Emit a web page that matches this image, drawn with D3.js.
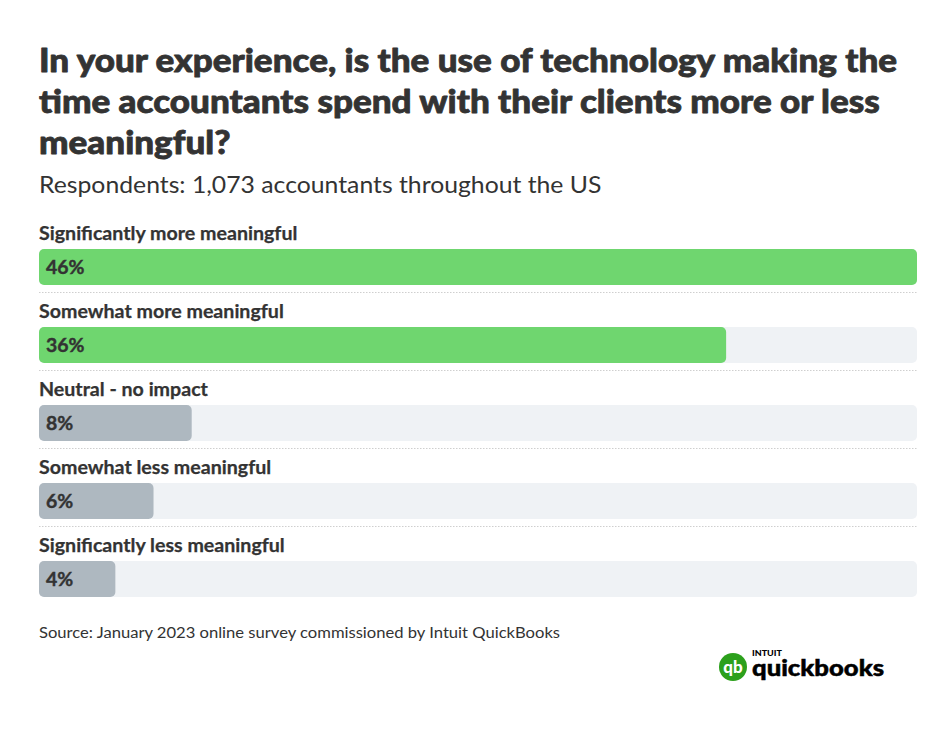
<!DOCTYPE html>
<html><head><meta charset="utf-8">
<script src="https://cdn.jsdelivr.net/npm/d3@7"></script>
<style>body{margin:0;background:#fff}svg{display:block}</style>
</head><body>
<svg id="c" width="946" height="748"></svg>
<script>
const titleLines = ["In your experience, is the use of technology making the","time accountants spend with their clients more or less","meaningful?"];
const subtitle = "Respondents: 1,073 accountants throughout the US";
const categories = ["Significantly more meaningful","Somewhat more meaningful","Neutral - no impact","Somewhat less meaningful","Significantly less meaningful"];
const values = [46,36,8,6,4];
const positive = [true,true,false,false,false];
const source = "Source: January 2023 online survey commissioned by Intuit QuickBooks";

const svg = d3.select("#c");
const ink = "#333333";
const left = 39, right = 917;
const x = d3.scaleLinear().domain([0, d3.max(values)]).range([left, right]);
const y = d3.scaleBand().domain(categories).range([218, 608]).paddingInner(0).paddingOuter(0);
const barH = 36;

function widen(sel, factor){
  sel.each(function(){
    const n = this.getComputedTextLength();
    d3.select(this).attr("textLength", n*factor).attr("lengthAdjust","spacingAndGlyphs");
  });
}

const tl = svg.append("g").selectAll("text").data(titleLines).join("text")
  .attr("x", left).attr("y", (d,i)=>72+i*41)
  .attr("font-family","Lato, sans-serif").attr("font-weight",900).attr("font-size",32)
  .attr("fill", ink).attr("stroke", ink).attr("stroke-width",0.8).attr("stroke-linejoin","round")
  .text(d=>d);
widen(tl, 1.095);

const st = svg.append("text").attr("x", left).attr("y", 193)
  .attr("font-family","Lato, sans-serif").attr("font-size",22.5).attr("fill", ink).text(subtitle);
widen(st, 1.10);

const rows = svg.append("g").selectAll("g").data(categories).join("g")
  .attr("transform", d=>`translate(0,${y(d)})`);

const lab = rows.append("text").attr("x", left).attr("y", 22)
  .attr("font-family","Lato, sans-serif").attr("font-weight",700).attr("font-size",18)
  .attr("fill", ink).attr("stroke", ink).attr("stroke-width",0.25).text(d=>d);
widen(lab, 1.09);

rows.append("rect").attr("x", left).attr("y", 31).attr("width", right-left).attr("height", barH)
  .attr("rx",5).attr("fill","#eff2f5");

rows.append("rect").attr("x", left).attr("y", 31)
  .attr("width", (d,i)=>x(values[i])-left).attr("height", barH).attr("rx",5)
  .attr("fill", (d,i)=>positive[i] ? "#6fd66f" : "#aeb8c0");

const vl = rows.append("text").attr("x", left+7).attr("y", 31+barH/2+6.5)
  .attr("font-family","Lato, sans-serif").attr("font-weight",700).attr("font-size",18)
  .attr("fill", ink).attr("stroke", ink).attr("stroke-width",0.4).text((d,i)=>values[i]+"%");
widen(vl, 1.08);

rows.filter((d,i)=>i<categories.length-1).append("line")
  .attr("x1", left).attr("x2", right).attr("y1", 74.5).attr("y2", 74.5)
  .attr("stroke","#cfcfcf").attr("stroke-width",1).attr("stroke-dasharray","1.5,1.5");

const src = svg.append("text").attr("x", left).attr("y", 638)
  .attr("font-family","Lato, sans-serif").attr("font-size",15.5).attr("fill", ink).text(source);
widen(src, 1.07);

// logo
const logo = svg.append("g");
logo.append("circle").attr("cx",733).attr("cy",667).attr("r",14).attr("fill","#2ca01c");
logo.append("text").attr("x",733).attr("y",673).attr("text-anchor","middle")
  .attr("font-family","Lato, sans-serif").attr("font-weight",900).attr("font-size",17)
  .attr("fill","#fff").text("qb");
logo.append("text").attr("x",752).attr("y",656)
  .attr("font-family","Lato, sans-serif").attr("font-weight",900).attr("font-size",7)
  .attr("textLength",30).attr("lengthAdjust","spacingAndGlyphs")
  .attr("fill","#000").text("INTUIT");
logo.append("text").attr("x",752).attr("y",676)
  .attr("font-family","Lato, sans-serif").attr("font-weight",900).attr("font-size",23)
  .attr("textLength",132).attr("lengthAdjust","spacingAndGlyphs")
  .attr("fill","#000").attr("stroke","#000").attr("stroke-width",0.5).text("quickbooks");
</script>
</body></html>
